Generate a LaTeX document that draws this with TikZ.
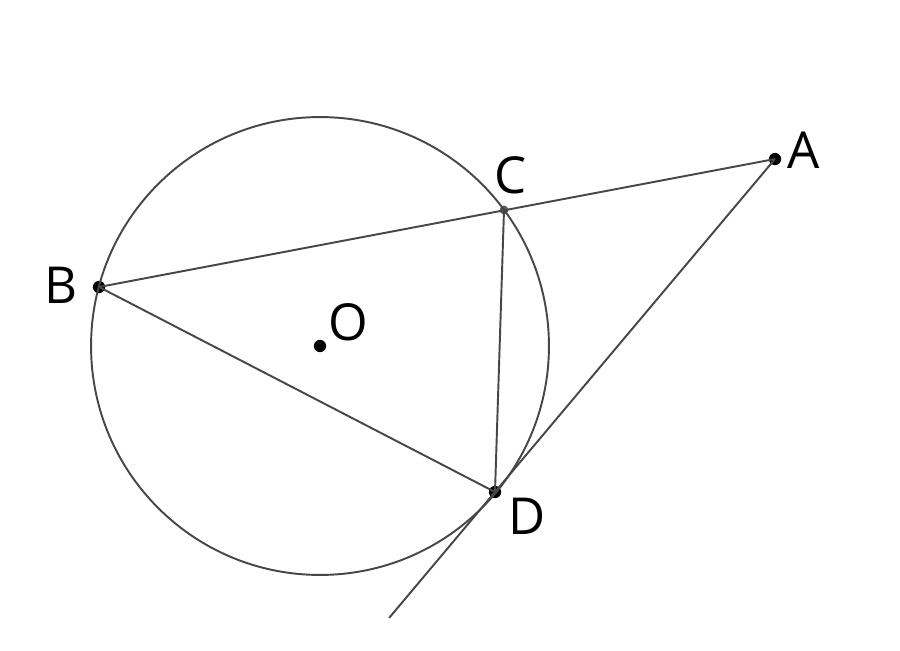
\documentclass[tikz,border=0pt]{standalone}
\usepackage{fontspec}
\setmainfont{Open Sans}
\usetikzlibrary{
    calc,
    positioning
}

\tikzset{
  seg/.style={draw=black!72, line width=1.1pt},
  pointdot/.style={circle, fill=black, inner sep=0pt, minimum size=7pt},
  pointlabel/.style={font=\fontsize{29}{34}\selectfont, inner sep=0pt}
}

\begin{document}
\begin{tikzpicture}[x=0.02cm, y=-0.02cm]

  \useasboundingbox (0,0) rectangle (900,650);

  % points {{{
  \node[pointdot] (O) at (320,346) {};
  \node[pointdot] (B) at (99,287) {};
  \node[
    circle,
    fill=black!65,
    inner sep=0pt,
    minimum size=5pt
  ] (C) at (504,210) {};
  \node[pointdot] (D) at (495,492) {};
  \node[pointdot] (A) at (775,159) {};
  \coordinate (E) at ($(A)!1.378!(D)$);
  % }}}

  % circle {{{
  \draw[seg] (O.center) circle [radius=4.58cm];
  % }}}

  % segments {{{
  \draw[seg] (B.center) -- (A.center);
  \draw[seg] (B.center) -- (D.center);
  \draw[seg] (C.center) -- (D.center);
  \draw[seg] (A.center) -- (E);
  % }}}

  % labels {{{
  \node[pointlabel] (labelA) at (804,150) {A};
  \node[pointlabel] (labelB) at (61,285) {B};
  \node[pointlabel] (labelC) at (511,175) {C};
  \node[pointlabel] (labelD) at (527,516) {D};
  \node[pointlabel] (labelO) at (348,322) {O};
  % }}}

\end{tikzpicture}
\end{document}
